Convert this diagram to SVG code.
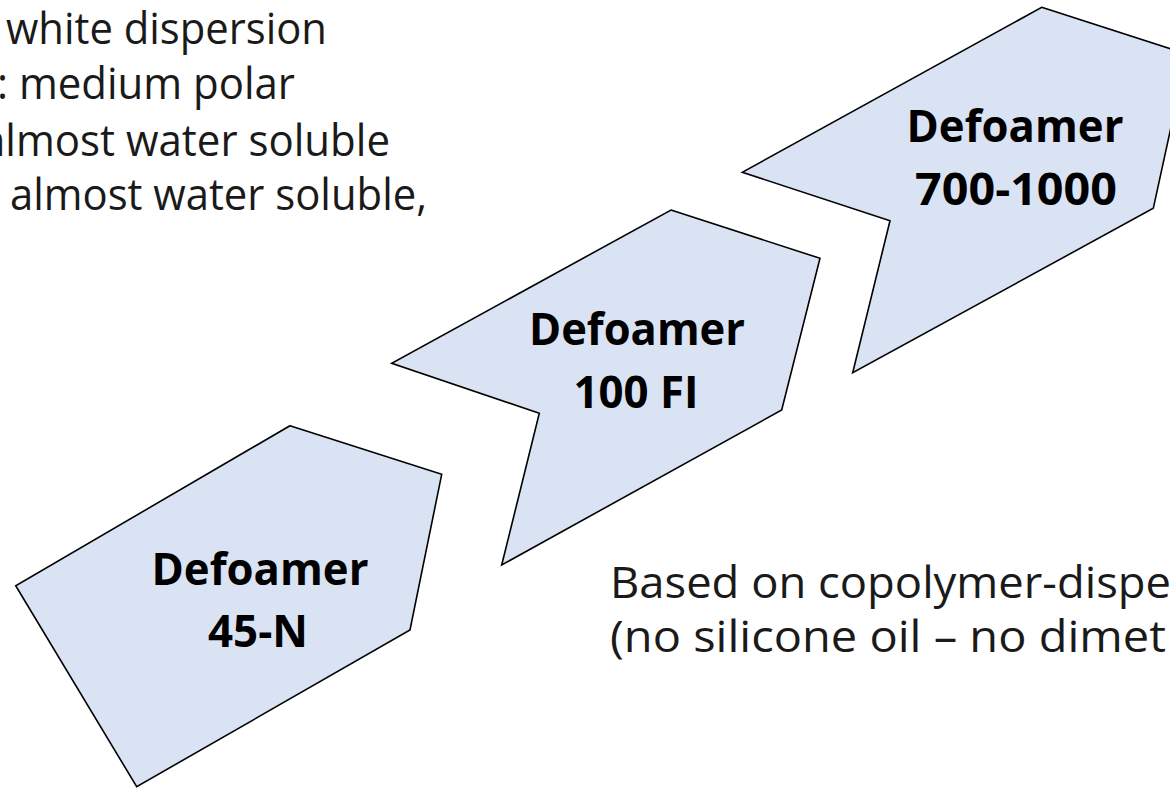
<svg xmlns="http://www.w3.org/2000/svg" width="1170" height="789" viewBox="0 0 1170 789">
  <style>
    .shape { fill: #DAE3F3; stroke: #000000; stroke-width: 1.6; stroke-linejoin: miter; }
    .label { font-family: "Open Sans", "Liberation Sans", sans-serif; font-weight: 700; font-size: 44px; fill: #000000; text-anchor: middle; }
    .note { font-family: "Open Sans", "Liberation Sans", sans-serif; font-weight: 400; font-size: 43px; fill: #1a1a1a; }
  </style>
  <rect x="0" y="0" width="1170" height="789" fill="#ffffff"/>

  <g id="notes-top">
    <text class="note" x="6" y="44" textLength="321" lengthAdjust="spacingAndGlyphs">white dispersion</text>
    <text class="note" x="-3" y="99" textLength="298" lengthAdjust="spacingAndGlyphs">: medium polar</text>
    <text class="note" x="-18" y="156" textLength="408" lengthAdjust="spacingAndGlyphs">almost water soluble</text>
    <text class="note" x="10" y="210" textLength="417" lengthAdjust="spacingAndGlyphs">almost water soluble,</text>
  </g>

  <g id="node-45N">
    <polygon class="shape" points="290,425.7 441.7,474.3 410,630 136.7,786.7 15.7,585.7"/>
    <text class="label" x="260" y="585" textLength="217" lengthAdjust="spacingAndGlyphs">Defoamer</text>
    <text class="label" x="258" y="647" textLength="100" lengthAdjust="spacingAndGlyphs">45-N</text>
  </g>

  <g id="node-100FI">
    <polygon class="shape" points="671,210 820,258.3 781.7,410 501.7,565 539.3,413.3 391.7,363.3"/>
    <text class="label" x="637" y="345" textLength="216" lengthAdjust="spacingAndGlyphs">Defoamer</text>
    <text class="label" x="636" y="408" textLength="125" lengthAdjust="spacingAndGlyphs">100 FI</text>
  </g>

  <g id="node-700-1000">
    <polygon class="shape" points="1041.7,7.3 1187,54 1153.3,208.3 852.7,372.7 890,220.7 742.3,172.3"/>
    <text class="label" x="1015" y="142" textLength="217" lengthAdjust="spacingAndGlyphs">Defoamer</text>
    <text class="label" x="1016" y="205" textLength="202" lengthAdjust="spacingAndGlyphs">700-1000</text>
  </g>

  <g id="connectors"></g>

  <g id="notes-bottom">
    <text class="note" x="610" y="598" textLength="561" lengthAdjust="spacingAndGlyphs">Based on copolymer-dispe</text>
    <text class="note" x="610" y="652" textLength="556" lengthAdjust="spacingAndGlyphs">(no silicone oil – no dimet</text>
  </g>
</svg>
